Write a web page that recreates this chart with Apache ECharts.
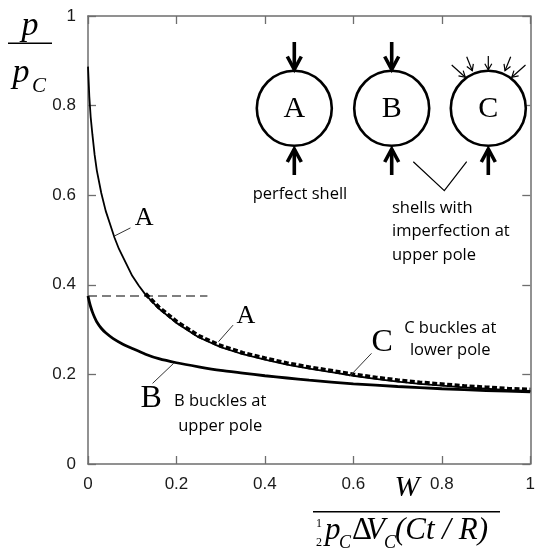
<!DOCTYPE html>
<html>
<head>
<meta charset="utf-8">
<script src="https://cdn.jsdelivr.net/npm/echarts@6/dist/echarts.min.js"></script>
<style>
  html, body { margin: 0; padding: 0; background: #fff; }
  #chart { width: 538px; height: 554px; }
</style>
</head>
<body>
<div id="chart"></div>
<script>
// Axis ticks (both axes run 0..1)
const tickValues = [0, 0.2, 0.4, 0.6, 0.8, 1];
const tickLabels = ['0', '0.2', '0.4', '0.6', '0.8', '1'];

// Curve A: perfect shell
const curveAx = [0, 0.003, 0.006, 0.01, 0.015, 0.02, 0.03, 0.04, 0.05, 0.06, 0.07, 0.085, 0.1, 0.115, 0.13, 0.16, 0.2, 0.25, 0.3, 0.35, 0.4, 0.45, 0.5, 0.55, 0.6, 0.65, 0.7, 0.75, 0.8, 0.85, 0.9, 0.95, 1.0];
const curveAy = [0.887, 0.82, 0.775, 0.735, 0.69, 0.655, 0.605, 0.565, 0.535, 0.505, 0.48, 0.45, 0.42, 0.398, 0.378, 0.347, 0.315, 0.283, 0.261, 0.245, 0.233, 0.222, 0.213, 0.205, 0.197, 0.19, 0.184, 0.179, 0.175, 0.171, 0.168, 0.165, 0.163];

// Curve B: imperfection at upper pole, buckles at upper pole
const curveBx = [0, 0.003, 0.006, 0.01, 0.015, 0.02, 0.03, 0.04, 0.057, 0.08, 0.1, 0.13, 0.16, 0.2, 0.25, 0.3, 0.35, 0.4, 0.45, 0.5, 0.6, 0.7, 0.8, 0.9, 1.0];
const curveBy = [0.375, 0.362, 0.351, 0.339, 0.327, 0.317, 0.303, 0.293, 0.28, 0.267, 0.258, 0.245, 0.235, 0.226, 0.217, 0.209, 0.203, 0.197, 0.192, 0.187, 0.179, 0.173, 0.168, 0.164, 0.161];

// Curve C: imperfection at upper pole, buckles at lower pole
const curveCx = [0.13, 0.16, 0.2, 0.25, 0.3, 0.35, 0.4, 0.45, 0.5, 0.55, 0.6, 0.65, 0.7, 0.75, 0.8, 0.85, 0.9, 0.95, 1.0];
const curveCy = [0.38, 0.35, 0.318, 0.286, 0.264, 0.248, 0.236, 0.225, 0.216, 0.208, 0.2, 0.193, 0.187, 0.182, 0.178, 0.174, 0.171, 0.168, 0.166];

// Horizontal dashed reference at the start of curve B
const refLineX = [0, 0.27];
const refLineY = [0.375, 0.375];

const pairs = (xs, ys) => xs.map((x, i) => [x, ys[i]]);

const chart = echarts.init(document.getElementById('chart'), null, { renderer: 'canvas' });

const axisColor = '#6e6e6e';
const tickFont = { fontFamily: 'Liberation Sans', fontSize: 17, color: '#1a1a1a' };
const labelFor = v => {
  const i = tickValues.findIndex(t => Math.abs(t - v) < 1e-9);
  return i >= 0 ? tickLabels[i] : '';
};

function valueAxis(position, showLabel) {
  return {
    type: 'value', position, min: 0, max: 1, interval: 0.2,
    axisLine: { show: true, onZero: false, lineStyle: { color: axisColor, width: 1.5 } },
    axisTick: { show: true, inside: true, length: 8, lineStyle: { color: axisColor, width: 1.3 } },
    axisLabel: Object.assign({ show: showLabel, margin: 12, formatter: labelFor }, tickFont),
    splitLine: { show: false }
  };
}

chart.setOption({
  animation: false,
  backgroundColor: '#fff',
  grid: { left: 88, top: 16, width: 448, height: 448, containLabel: false },
  xAxis: [valueAxis('bottom', true), valueAxis('top', false)],
  yAxis: [valueAxis('left', true), valueAxis('right', false)],
  series: [
    {
      name: 'ref', type: 'line', data: pairs(refLineX, refLineY), showSymbol: false, silent: true,
      lineStyle: { color: '#555', width: 1.5, type: [9, 5] }, z: 2
    },
    {
      name: 'A', type: 'line', data: pairs(curveAx, curveAy), showSymbol: false, silent: true,
      lineStyle: { color: '#000', width: 1.8 }, z: 3
    },
    {
      name: 'B', type: 'line', data: pairs(curveBx, curveBy), showSymbol: false, silent: true,
      smooth: 0.2, lineStyle: { color: '#000', width: 2.8 }, z: 3
    },
    {
      name: 'C', type: 'line', data: pairs(curveCx, curveCy), showSymbol: false, silent: true,
      lineStyle: { color: '#000', width: 4, type: [5, 2.5] }, z: 4
    }
  ]
});

// ---- annotations -------------------------------------------------------
const px = (x, y) => chart.convertToPixel({ gridIndex: 0 }, [x, y]);

function txt(x, y, s, font, align) {
  return {
    type: 'text', silent: true, z: 10,
    style: { x, y, text: s, font, fill: '#000', textAlign: align || 'center', textVerticalAlign: 'middle', verticalAlign: 'middle' }
  };
}
function seg(x1, y1, x2, y2, w, color) {
  return { type: 'line', silent: true, z: 10, shape: { x1, y1, x2, y2 }, style: { stroke: color || '#000', lineWidth: w } };
}
function poly(points, w) {
  return { type: 'polyline', silent: true, z: 10, shape: { points }, style: { stroke: '#000', lineWidth: w, fill: null, lineJoin: 'miter' } };
}
function dataText(x, y, s, font, align) { const p = px(x, y); return txt(p[0], p[1], s, font, align); }
function dataSeg(x1, y1, x2, y2, w) { const a = px(x1, y1), b = px(x2, y2); return seg(a[0], a[1], b[0], b[1], w, '#333'); }

const serif = s => `${s}px "Liberation Serif", serif`;
const serifI = s => `italic ${s}px "Liberation Serif", serif`;
const sans = s => `${s}px "Open Sans", sans-serif`;

const els = [];

// curve labels and leader lines
els.push(dataText(0.127, 0.549, 'A', serif(26)));
els.push(dataSeg(0.060, 0.509, 0.096, 0.527, 1));
els.push(dataText(0.357, 0.330, 'A', serif(26)));
els.push(dataSeg(0.295, 0.273, 0.328, 0.310, 1));
els.push(dataText(0.665, 0.270, 'C', serif(32)));
els.push(dataSeg(0.592, 0.196, 0.641, 0.247, 1));
els.push(dataText(0.143, 0.147, 'B', serif(32)));
els.push(dataSeg(0.146, 0.180, 0.194, 0.225, 1));
els.push(dataText(0.299, 0.141, 'B buckles at', sans(16.5)));
els.push(dataText(0.299, 0.085, 'upper pole', sans(16.5)));
els.push(dataText(0.819, 0.304, 'C buckles at', sans(16.5)));
els.push(dataText(0.819, 0.254, 'lower pole', sans(16.5)));

// shell sketches
const cy = 108.3, r = 37.5;
const centers = [294.3, 391.7, 488.3];
const names = ['A', 'B', 'C'];
centers.forEach((cx, i) => {
  els.push({ type: 'circle', silent: true, z: 10, shape: { cx, cy, r }, style: { stroke: '#000', lineWidth: 2.6, fill: '#fff' } });
  els.push(txt(cx, cy + 1, names[i], serif(30)));
  // bottom point load (upwards)
  els.push(seg(cx, 149, cx, 175, 3.6));
  els.push(poly([[cx - 7, 162], [cx, 149], [cx + 7, 162]], 3.6));
  if (i < 2) {
    // top point load (downwards)
    els.push(seg(cx, 42, cx, 69.5, 3.6));
    els.push(poly([[cx - 7, 56.5], [cx, 69.5], [cx + 7, 56.5]], 3.6));
  }
});
// distributed pressure on shell C
const smallArrows = [
  [[451.7, 65], [465.3, 77.3]],
  [[466.7, 56.7], [472.3, 70.7]],
  [[488.3, 56], [488.3, 69.8]],
  [[510.7, 56.7], [505.0, 70.7]],
  [[525.5, 65], [511.8, 77.3]]
];
smallArrows.forEach(([a, b]) => {
  els.push(seg(a[0], a[1], b[0], b[1], 1.2));
  const dx = b[0] - a[0], dy = b[1] - a[1], L = Math.hypot(dx, dy);
  const ux = dx / L, uy = dy / L, hl = 6, hw = 3.5;
  const bx = b[0] - ux * hl, by = b[1] - uy * hl;
  els.push(poly([[bx - uy * hw, by + ux * hw], b, [bx + uy * hw, by - ux * hw]], 1.2));
});
els.push(txt(300, 194, 'perfect shell', sans(16.5)));
els.push(poly([[413.3, 161.7], [444.3, 190.7], [466.7, 161.7]], 1.2));
els.push(txt(392, 208, 'shells with', sans(16.5), 'left'));
els.push(txt(392, 231.5, 'imperfection at', sans(16.5), 'left'));
els.push(txt(392, 255, 'upper pole', sans(16.5), 'left'));

// y-axis title p / p_C
els.push(txt(30, 26, 'p', serifI(34)));
els.push(seg(8, 43.3, 52, 43.3, 1.6));
els.push(txt(21, 73, 'p', serifI(34)));
els.push(txt(39, 86, 'C', serifI(21)));

// x-axis title W / (1/2 p_C ΔV_C (Ct / R))
els.push(txt(407, 488, 'W', serifI(30)));
els.push(seg(313, 511.7, 500, 511.7, 1.5));
els.push(txt(319, 523.5, '1', serif(12)));
els.push(txt(319, 542.5, '2', serif(12)));
els.push(txt(325, 531, 'p', serifI(31), 'left'));
els.push(txt(339, 543, 'C', serifI(18), 'left'));
els.push(txt(352, 531, 'Δ', serif(31), 'left'));
els.push(txt(366, 531, 'V', serifI(31), 'left'));
els.push(txt(384, 543, 'C', serifI(18), 'left'));
els.push(txt(395, 531, '(Ct / R)', serifI(31), 'left'));

chart.setOption({ graphic: { elements: els } });
</script>
</body>
</html>
